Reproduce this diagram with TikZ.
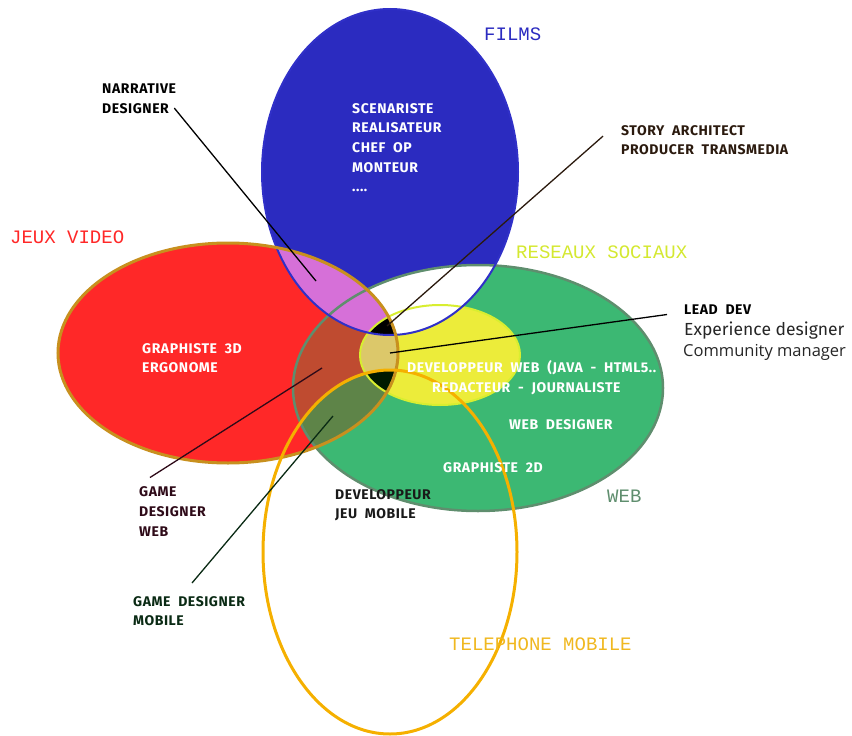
\documentclass[tikz,border=0pt]{standalone}
\usepackage{fontspec}
\setmainfont{Fira Sans}
\newfontfamily\comicfont{Fira Sans}[LetterSpace=4,WordSpace=2]
\newfontfamily\typefont{Liberation Mono}
\newfontfamily\roundfont{Open Sans}

\definecolor{FilmClr}{HTML}{2B2BC0}
\definecolor{FilmLine}{HTML}{3030C8}
\definecolor{JeuxClr}{HTML}{FF2828}
\definecolor{JeuxLine}{HTML}{C8901E}
\definecolor{WebClr}{HTML}{3CB873}
\definecolor{WebLine}{HTML}{5F8E6E}
\definecolor{ResClr}{HTML}{ECEC3A}
\definecolor{ResLine}{HTML}{D8EE30}
\definecolor{TelClr}{HTML}{F5B000}
\definecolor{FJClr}{HTML}{D670D8}
\definecolor{JWClr}{HTML}{BF4B30}
\definecolor{JRClr}{HTML}{DCC86A}
\definecolor{JWTClr}{HTML}{5E8448}
\definecolor{JRTClr}{HTML}{001A00}
\definecolor{ResTxt}{HTML}{D4E830}
\definecolor{TelTxt}{HTML}{F0B820}
\definecolor{StoryClr}{HTML}{2B1A0E}
\definecolor{GWebClr}{HTML}{2E0A18}
\definecolor{GMobClr}{HTML}{0A2A14}

\newcommand{\filmsEll}{(F) ellipse [x radius=128pt, y radius=163pt]}
\newcommand{\jeuxEll}{(J) ellipse [x radius=170pt, y radius=110pt]}
\newcommand{\webEll}{(W) ellipse [x radius=185pt, y radius=123pt]}
\newcommand{\resEll}{(R) ellipse [x radius=80pt, y radius=50pt]}
\newcommand{\telEll}{(T) ellipse [x radius=127pt, y radius=182pt]}

\tikzset{
  jobtxt/.style={font={\comicfont\bfseries\fontsize{14}{19.7}\selectfont},
    align=left, inner sep=0pt, anchor=north west},
  setname/.style={font={\typefont\fontsize{19}{19}\selectfont},
    inner sep=0pt, anchor=west},
  leader/.style={line width=1.3pt},
}

\begin{document}
\begin{tikzpicture}[x=1pt,y=-1pt]
\useasboundingbox (0,0) rectangle (852,736);

\coordinate (F) at (390,172);
\coordinate (J) at (228,353);
\coordinate (W) at (478,388);
\coordinate (R) at (440,355);
\coordinate (T) at (390,552);

\fill[JeuxClr] \jeuxEll;
\fill[WebClr] \webEll;
\fill[ResClr] \resEll;
\begin{scope}
  \clip \jeuxEll;
  \fill[JWClr] \webEll;
  \fill[JRClr] \resEll;
  \clip \telEll;
  \fill[JWTClr] \webEll;
  \fill[JRTClr] \resEll;
\end{scope}

\fill[FilmClr] \filmsEll;
\begin{scope}
  \clip \filmsEll;
  \fill[white] \webEll;
  \fill[FJClr] \jeuxEll;
  \clip \jeuxEll;
  \fill[black] \resEll;
\end{scope}

\draw[WebLine,line width=2.5pt] \webEll;
\draw[ResLine,line width=2pt] \resEll;
\draw[FilmLine,line width=2pt] \filmsEll;
\draw[JeuxLine,line width=3pt] \jeuxEll;
\draw[TelClr,line width=3pt] \telEll;

% set names
\node[setname,FilmClr] (films) at (484,34.5) {FILMS};
\node[setname,JeuxClr] (jeux) at (10,237.5) {JEUX VIDEO};
\node[setname,ResTxt] (reseaux) at (516,252.5) {RESEAUX SOCIAUX};
\node[setname,WebLine] (web) at (607,496.5) {WEB};
\node[setname,TelTxt] (tel) at (449,644) {TELEPHONE MOBILE};

% jobs
\node[jobtxt,white] (cine) at (352,103) {SCENARISTE\\REALISATEUR\\CHEF OP\\MONTEUR\\....};
\node[jobtxt,white] (g3d) at (142,343) {GRAPHISTE 3D\\ERGONOME};
\node[jobtxt,white] (devweb) at (407,360) {DEVELOPPEUR WEB (JAVA - HTML5..};
\node[jobtxt,white] (redac) at (432,382.5) {REDACTEUR - JOURNALISTE};
\node[jobtxt,white] (webdes) at (509,419) {WEB DESIGNER};
\node[jobtxt,white] (g2d) at (443,462.5) {GRAPHISTE 2D};
\node[jobtxt,black!90] (devjeu) at (335,489) {DEVELOPPEUR\\JEU MOBILE};

\node[jobtxt,black] (narr) at (102,84) {NARRATIVE\\DESIGNER};
\node[jobtxt,StoryClr] (story) at (621,125) {STORY ARCHITECT\\PRODUCER TRANSMEDIA};
\node[jobtxt,black,anchor=west] (lead) at (684,309.5) {LEAD DEV};
\node[font={\fontsize{17.5}{20}\selectfont},inner sep=0pt,anchor=base west,black!85]
  (expe) at (684,335) {Experience designer};
\node[font={\roundfont\fontsize{16.5}{20}\selectfont},inner sep=0pt,anchor=base west,black!85]
  (commu) at (683,356) {Community manager};
\node[jobtxt,GWebClr] (gdweb) at (139,486.5) {GAME\\DESIGNER\\WEB};
\node[jobtxt,GMobClr] (gdmob) at (133,596) {GAME DESIGNER\\MOBILE};

\coordinate (narrPt) at (316,281);
\coordinate (storyPt) at (387,326);
\coordinate (leadPt) at (390,353);
\coordinate (gdwebPt) at (322,368);
\coordinate (gdmobPt) at (333,416);

\draw[leader,black] ([shift={(-2,-6)}]narr.south east) -- (narrPt);
\draw[leader,StoryClr] ([shift={(-18,-4)}]story.west) -- (storyPt);
\draw[leader,black] ([shift={(-17,5)}]lead.west) -- (leadPt);
\draw[leader,GWebClr] ([shift={(11,-9)}]gdweb.north west) -- (gdwebPt);
\draw[leader,GMobClr] ([shift={(59,-13)}]gdmob.north west) -- (gdmobPt);

\end{tikzpicture}
\end{document}
